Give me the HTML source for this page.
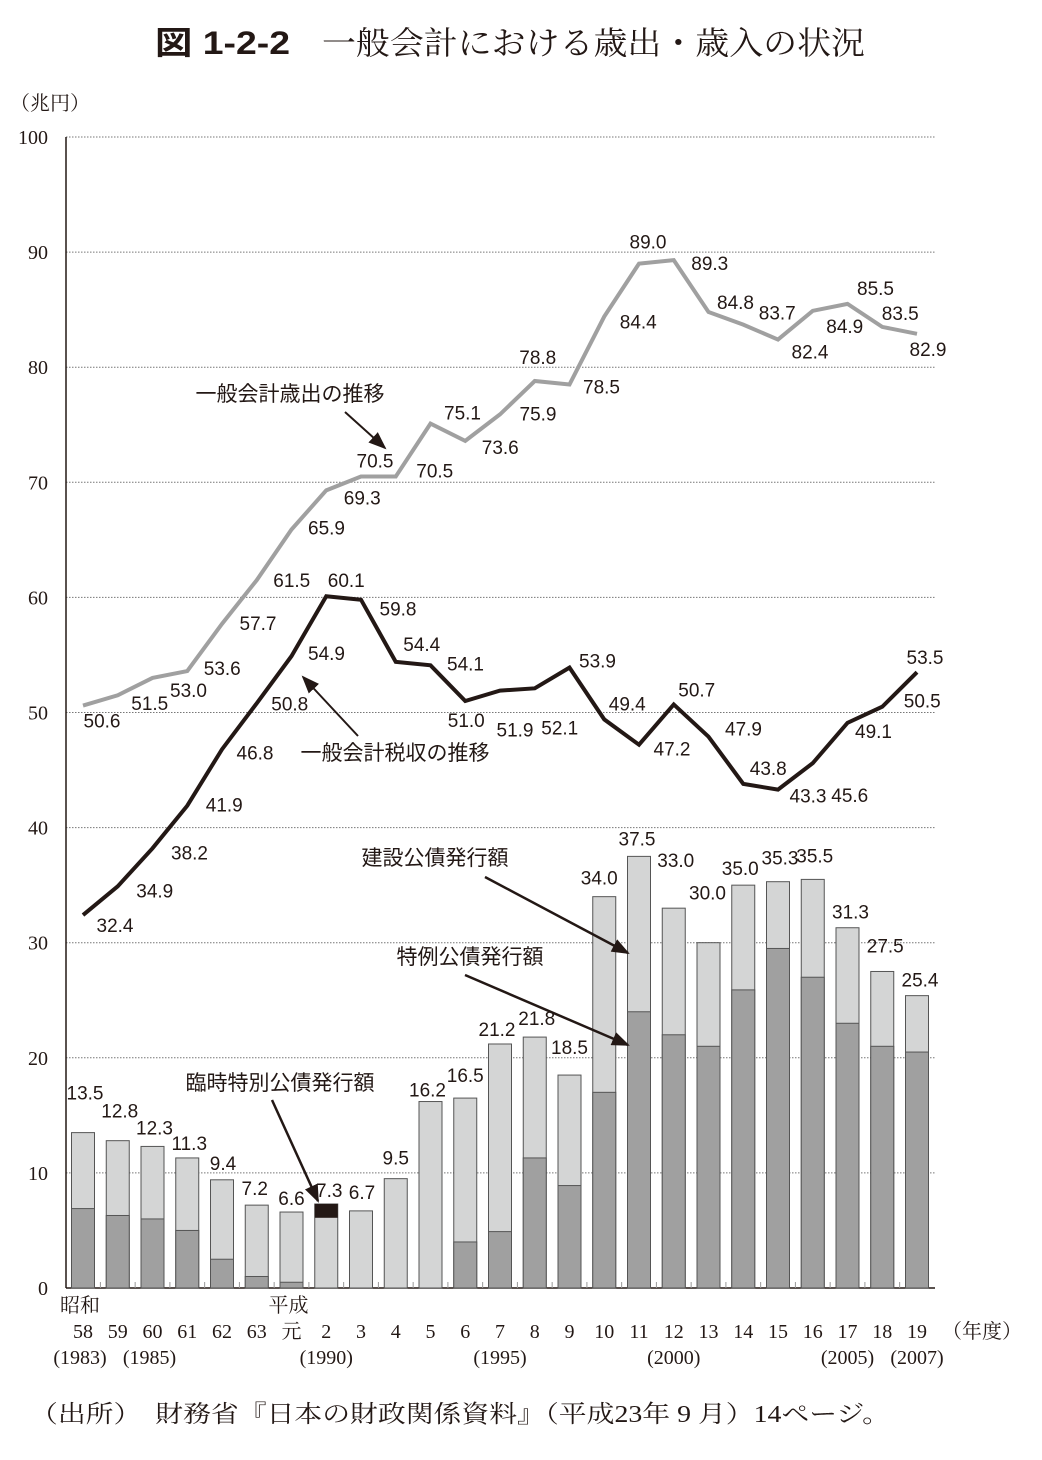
<!DOCTYPE html>
<html><head><meta charset="utf-8"><style>
body{margin:0;background:#fff;}
svg{display:block;}
.s{font-family:"Liberation Serif","Noto Serif CJK SC",serif;fill:#231815;}
.g{font-family:"Liberation Sans","Noto Sans CJK JP",sans-serif;fill:#231815;}
</style></head><body>
<svg id="c" width="1042" height="1460" viewBox="0 0 1042 1460" xmlns="http://www.w3.org/2000/svg">
<defs><marker id="ah2" markerWidth="18" markerHeight="14" refX="16" refY="7" orient="auto" markerUnits="userSpaceOnUse" viewBox="0 0 18 14"><path d="M0,0 L18,7 L0,14 z" fill="#231815"/></marker></defs>
<text x="155" y="54" class="g" font-size="32" font-weight="bold" textLength="135" lengthAdjust="spacingAndGlyphs">図 1-2-2</text>
<text x="322" y="54" class="s" font-size="32" textLength="543" lengthAdjust="spacingAndGlyphs">一般会計における歳出・歳入の状況</text>
<text x="10" y="110" class="s" font-size="20">（兆円）</text>
<g id="grid"></g><g id="bars"></g><g id="lines"></g><g id="labels"></g>
<g>
<text x="290" y="401" class="g" font-size="21" text-anchor="middle">一般会計歳出の推移</text>
<line x1="345" y1="412" x2="385" y2="448" stroke="#231815" stroke-width="2" marker-end="url(#ah2)"/>
<text x="395" y="760" class="g" font-size="21" text-anchor="middle">一般会計税収の推移</text>
<line x1="358" y1="736" x2="303" y2="677" stroke="#231815" stroke-width="2" marker-end="url(#ah2)"/>
<text x="435" y="865" class="g" font-size="21" text-anchor="middle">建設公債発行額</text>
<line x1="485" y1="877" x2="628" y2="953" stroke="#231815" stroke-width="2.5" marker-end="url(#ah2)"/>
<text x="470" y="964" class="g" font-size="21" text-anchor="middle">特例公債発行額</text>
<line x1="465" y1="975" x2="628" y2="1045" stroke="#231815" stroke-width="2.5" marker-end="url(#ah2)"/>
<text x="280" y="1090" class="g" font-size="21" text-anchor="middle">臨時特別公債発行額</text>
<line x1="272" y1="1100" x2="318" y2="1201" stroke="#231815" stroke-width="2.5" marker-end="url(#ah2)"/>
</g>
<text x="30" y="1422" class="s" font-size="24" textLength="860" lengthAdjust="spacingAndGlyphs">（出所）　財務省『日本の財政関係資料』（平成23年 9 月）14ページ。</text>
</svg>
<script>
const years=["58","59","60","61","62","63","元","2","3","4","5","6","7","8","9","10","11","12","13","14","15","16","17","18","19"];
const expenditure=[50.6,51.5,53.0,53.6,57.7,61.5,65.9,69.3,70.5,70.5,75.1,73.6,75.9,78.8,78.5,84.4,89.0,89.3,84.8,83.7,82.4,84.9,85.5,83.5,82.9];
const taxRevenue=[32.4,34.9,38.2,41.9,46.8,50.8,54.9,60.1,59.8,54.4,54.1,51.0,51.9,52.1,53.9,49.4,47.2,50.7,47.9,43.8,43.3,45.6,49.1,50.5,53.5];
const bondTotal=[13.5,12.8,12.3,11.3,9.4,7.2,6.6,7.3,6.7,9.5,16.2,16.5,21.2,21.8,18.5,34.0,37.5,33.0,30.0,35.0,35.3,35.5,31.3,27.5,25.4];
const deficitBond=[6.9,6.3,6.0,5.0,2.5,1.0,0.5,0,0,0,0,4.0,4.9,11.3,8.9,17.0,24.0,22.0,21.0,25.9,29.5,27.0,23.0,21.0,20.5];
const temporaryBond=[0,0,0,0,0,0,0,1.2,0,0,0,0,0,0,0,0,0,0,0,0,0,0,0,0,0];
const yTicks=[0,10,20,30,40,50,60,70,80,90,100];
const eraLabels=[["昭和",0],["平成",6]];
const yearNotes=[["(1983)",0],["(1985)",2],["(1990)",7],["(1995)",12],["(2000)",17],["(2005)",22],["(2007)",24]];
// label offsets (layout, not data)
const expOff=[[19,15],[32,8],[36,12],[35,-3],[36,-1],[35,0],[35,-2],[36,7],[14,-16],[39,-6],[32,-11],[35,6],[38,-1],[3,-24],[32,2],[34,5],[9,-22],[36,3],[27,-10],[34,-12],[32,12],[32,15],[28,-16],[18,-14],[11,15]];
const taxOff=[[32,10],[37,4],[37,4],[37,-1],[33,3],[33,0],[35,-3],[20,-16],[37,9],[26,-18],[35,-2],[1,19],[15,39],[25,39],[28,-7],[23,-16],[33,4],[23,-15],[35,-8],[25,-16],[30,6],[37,32],[26,8],[40,-6],[8,-15]];
const barOff=[[2,40],[2,30],[2,19],[2,15],[1,17],[-2,17],[0,14],[3,14],[1,19],[0,21],[-3,12],[0,23],[-3,15],[2,19],[0,28],[-5,19],[-2,18],[2,48],[-1,50],[-3,17],[2,24],[2,24],[3,16],[3,26],[3,16]];
const NS="http://www.w3.org/2000/svg";
const X0=66,X1=935,Y0=1288,PX=11.51;
const xs=i=>83+i*(917-83)/(years.length-1);
const ys=v=>Y0-v*PX;
function mk(tag,attrs,parent,text){const e=document.createElementNS(NS,tag);for(const k in attrs)e.setAttribute(k,attrs[k]);if(text!==undefined)e.textContent=text;parent.appendChild(e);return e;}
const grid=document.getElementById('grid'),bars=document.getElementById('bars'),lines=document.getElementById('lines'),labels=document.getElementById('labels');
yTicks.forEach(t=>{
  if(t>0){const l=mk('line',{x1:X0,x2:X1,y1:ys(t),y2:ys(t),stroke:'#777','stroke-width':1,'stroke-dasharray':'1.5,1.5'},grid);
  
  }
  const tx=mk('text',{x:48,y:ys(t)+7,'text-anchor':'end','font-size':20,class:'s'},grid,String(t));
  
  
});
mk('line',{x1:X0,x2:X0,y1:ys(100),y2:Y0,stroke:'#231815','stroke-width':1.5},grid);
mk('line',{x1:X0,x2:X1,y1:Y0,y2:Y0,stroke:'#231815','stroke-width':1.5},grid);
const BW=23;
years.forEach((y,i)=>{
  const cx=xs(i);
  const g=mk('g',{},bars);
  
  
  mk('rect',{x:cx-BW/2,y:ys(bondTotal[i]),width:BW,height:bondTotal[i]*PX,fill:'#d4d5d5',stroke:'#555','stroke-width':1},g);
  if(deficitBond[i]>0)mk('rect',{x:cx-BW/2,y:ys(deficitBond[i]),width:BW,height:deficitBond[i]*PX,fill:'#a0a0a0',stroke:'#555','stroke-width':1},g);
  if(temporaryBond[i]>0)mk('rect',{x:cx-BW/2,y:ys(bondTotal[i]),width:BW,height:temporaryBond[i]*PX,fill:'#231815'},g);
  if(i<years.length-1)mk('line',{x1:cx+17.4,x2:cx+17.4,y1:Y0,y2:Y0-6,stroke:'#999','stroke-width':1},g);
  const bl=mk('text',{x:cx+barOff[i][0],y:ys(bondTotal[i])-barOff[i][1]+7,'text-anchor':'middle','font-size':19,class:'g'},labels,bondTotal[i].toFixed(1));
  
  
  const xl=mk('text',{x:cx,y:1338,'text-anchor':'middle','font-size':20,class:'s'},labels,y);
  
  
});
eraLabels.forEach(([t,i])=>{const e=mk('text',{x:xs(i)-3,y:1312,'text-anchor':'middle','font-size':20,class:'s'},labels,t);
  
  });
yearNotes.forEach(([t,i])=>{const e=mk('text',{x:xs(i)+(i==0?-3:i==2?-3:0),y:1364,'text-anchor':'middle','font-size':20,class:'s'},labels,t);
  
  });
const fy=mk('text',{x:982,y:1338,'text-anchor':'middle','font-size':20,class:'s'},labels,'（年度）');


function series(vals,off,color,name){
  const p=mk('polyline',{points:vals.map((v,i)=>xs(i)+','+ys(v)).join(' '),fill:'none',stroke:color,'stroke-width':4,'stroke-linejoin':'miter'},lines);
  
  
  vals.forEach((v,i)=>{const t=mk('text',{x:xs(i)+off[i][0],y:ys(v)+off[i][1]+7,'text-anchor':'middle','font-size':19,class:'g'},labels,v.toFixed(1));
    
    });
}
series(expenditure,expOff,'#a0a0a0','expenditure');
series(taxRevenue,taxOff,'#231815','tax-revenue');
</script>
</body></html>
